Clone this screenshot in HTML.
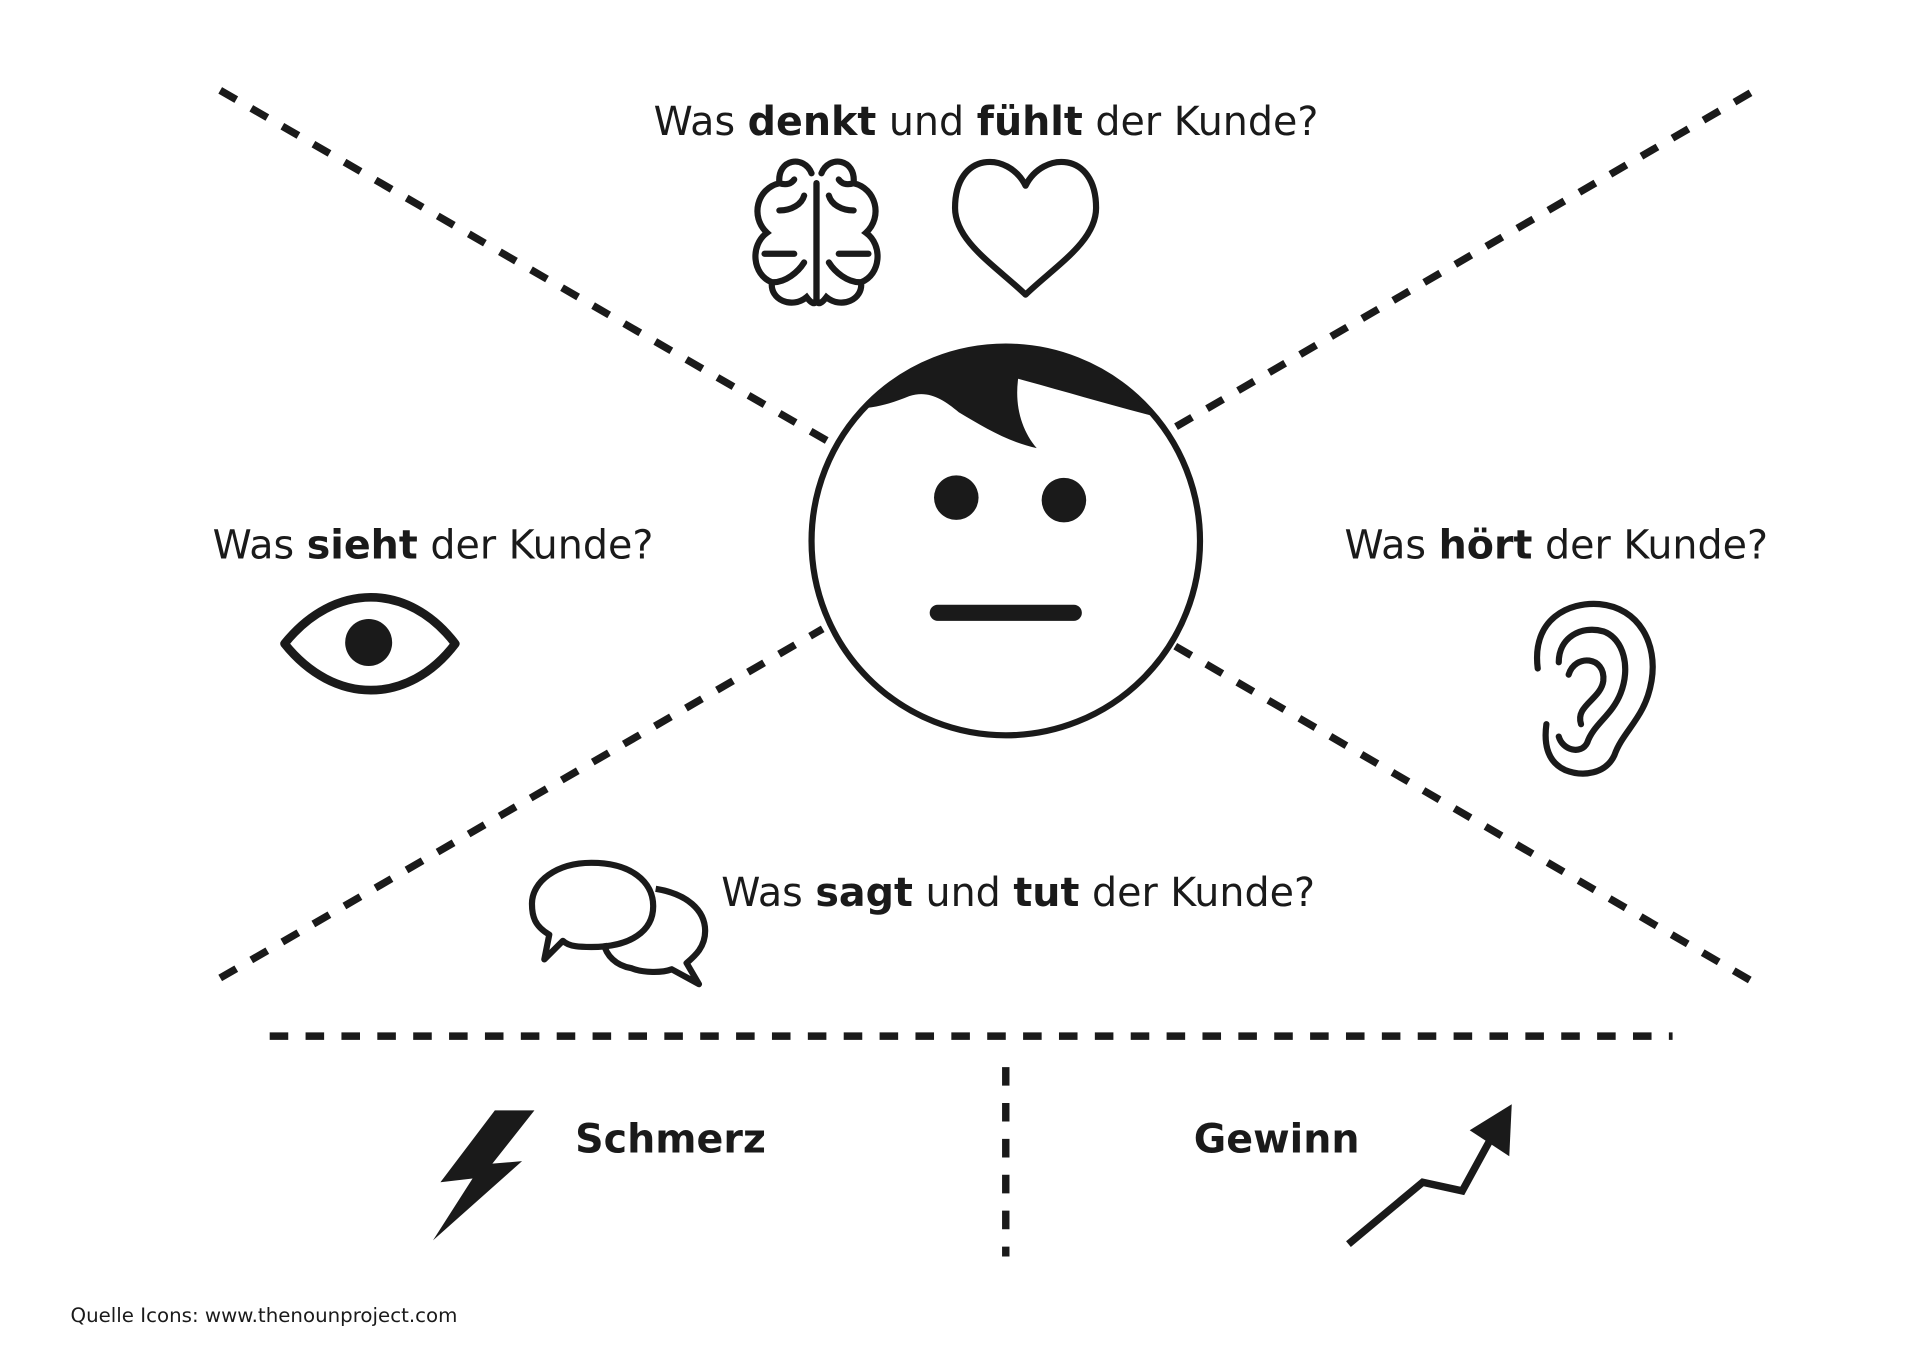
<!DOCTYPE html>
<html><head><meta charset="utf-8"><style>
html,body{margin:0;padding:0;background:#fff;}
svg{display:block;}
text{font-family:"DejaVu Sans","Liberation Sans",sans-serif;fill:#1a1a1a;}
</style></head><body>
<svg width="1920" height="1358" viewBox="0 0 1552 1097" preserveAspectRatio="none" xmlns="http://www.w3.org/2000/svg">
<defs><clipPath id="c"><circle cx="813" cy="437" r="156"/></clipPath></defs>
<rect width="1552" height="1097" fill="#fff"/>
<g stroke="#1a1a1a" stroke-width="6" stroke-dasharray="15 14" fill="none">
<line x1="178" y1="73" x2="672" y2="358"/>
<line x1="1415" y1="75" x2="950" y2="345"/>
<line x1="178" y1="790" x2="665" y2="508"/>
<line x1="950" y1="522" x2="1415" y2="792"/>
<line x1="218" y1="837" x2="1352" y2="837"/>
<line x1="813" y1="862" x2="813" y2="1015"/>
</g>
<!-- face -->
<circle cx="813" cy="437" r="157" fill="#fff" stroke="#1a1a1a" stroke-width="5"/>
<path clip-path="url(#c)" d="M640,250 L990,250 L990,345 L940,338 C900,328 860,316 823,306 C820,328 826,348 838,362 C815,357 795,345 775,333 C762,322 750,315 735,320 C718,327 705,330 690,330 Z" fill="#1a1a1a"/>
<circle cx="773" cy="402" r="18" fill="#1a1a1a"/>
<circle cx="860" cy="404" r="18" fill="#1a1a1a"/>
<line x1="758" y1="495" x2="868" y2="495" stroke="#1a1a1a" stroke-width="13" stroke-linecap="round"/>
<!-- brain -->
<g stroke="#1a1a1a" stroke-width="5" fill="none" stroke-linecap="round">
<g id="lobe">
<path d="M656,140 C650,125 628,128 630,148 C612,152 606,175 620,188 C606,198 608,222 624,228 C622,242 640,250 652,240 C658,248 660,245 660,240 L660,148"/>
<path d="M630,170 C640,170 648,165 650,158"/>
<path d="M618,205 C628,205 635,205 642,205"/>
<path d="M625,228 C635,228 645,220 650,212"/>
<path d="M630,148 C636,150 640,148 642,145"/>
</g>
<use href="#lobe" transform="translate(1320,0) scale(-1,1)"/>
</g>
<!-- heart -->
<path d="M829,150 C815,122 772,122 772,168 C772,195 805,215 829,238 C853,215 886,195 886,168 C886,122 843,122 829,150 Z" fill="none" stroke="#1a1a1a" stroke-width="5" stroke-linejoin="round"/>
<!-- eye -->
<path d="M230,520 C270,470 330,470 368,520 C330,570 270,570 230,520 Z" fill="none" stroke="#1a1a1a" stroke-width="7" stroke-linejoin="round"/>
<circle cx="298" cy="519" r="19" fill="#1a1a1a"/>
<!-- ear -->
<g stroke="#1a1a1a" stroke-width="5" fill="none" stroke-linecap="round">
<path d="M1243,540 C1238,500 1268,486 1293,488 C1325,491 1340,520 1335,550 C1330,580 1312,590 1305,610 C1298,625 1280,628 1265,622 C1250,615 1248,600 1250,585"/>
<path d="M1260,535 C1260,515 1278,505 1296,510 C1313,516 1318,540 1310,560 C1303,578 1288,585 1283,600 C1278,610 1263,606 1260,595"/>
<path d="M1268,545 C1273,528 1298,530 1296,550 C1294,565 1273,570 1278,585"/>
</g>
<!-- speech bubbles -->
<g stroke="#1a1a1a" stroke-width="5" fill="none" stroke-linejoin="round">
<path d="M478,697 C510,697 528,712 528,732 C528,752 510,765 478,765 C470,765 460,765 455,760 L440,775 L444,755 C432,748 430,740 430,730 C430,712 450,697 478,697 Z"/>
<path d="M530,718 C555,722 570,735 570,752 C570,765 562,772 555,778 L565,795 L543,783 C535,786 520,786 510,782 C498,780 490,772 488,762"/>
</g>
<!-- lightning -->
<path d="M400,897 L432,897 L398,940 L422,938 L350,1002 L382,952 L356,955 Z" fill="#1a1a1a"/>
<!-- arrow -->
<polyline points="1090,1005 1150,955 1182,962 1205,920" fill="none" stroke="#1a1a1a" stroke-width="6" stroke-linejoin="miter"/>
<path d="M1188,913 L1222,892 L1220,934 Z" fill="#1a1a1a"/>
<!-- texts -->
<text x="797" y="109" font-size="32" text-anchor="middle">Was <tspan font-weight="bold">denkt</tspan> und <tspan font-weight="bold">fühlt</tspan> der Kunde?</text>
<text x="350" y="451" font-size="32" text-anchor="middle">Was <tspan font-weight="bold">sieht</tspan> der Kunde?</text>
<text x="1258" y="451" font-size="32" text-anchor="middle">Was <tspan font-weight="bold">hört</tspan> der Kunde?</text>
<text x="823" y="732" font-size="32" text-anchor="middle">Was <tspan font-weight="bold">sagt</tspan> und <tspan font-weight="bold">tut</tspan> der Kunde?</text>
<text x="542" y="931" font-size="32" font-weight="bold" text-anchor="middle">Schmerz</text>
<text x="1032" y="931" font-size="32" font-weight="bold" text-anchor="middle">Gewinn</text>
<text x="57" y="1068" font-size="16">Quelle Icons: www.thenounproject.com</text>
</svg>
</body></html>
